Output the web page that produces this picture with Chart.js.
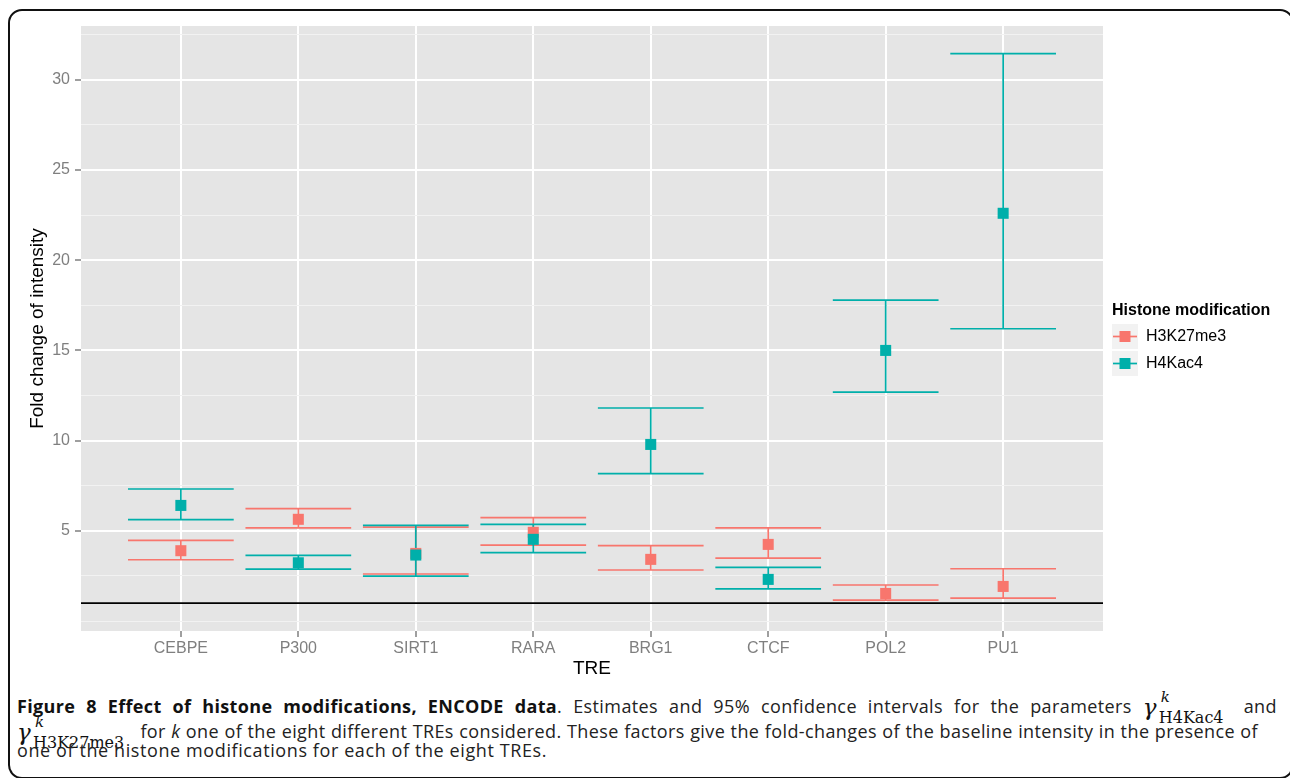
<!DOCTYPE html>
<html>
<head>
<meta charset="utf-8">
<script src="https://cdn.jsdelivr.net/npm/chart.js@4.4.1/dist/chart.umd.min.js"></script>
<style>
  html, body { margin: 0; padding: 0; background: #fff; }
  body { width: 1290px; height: 778px; position: relative; overflow: hidden; }
  #wrap { position: absolute; left: 0; top: 0; width: 1290px; height: 680px; }
  #frame {
    position: absolute; left: 8px; top: 9px; width: 1282px; height: 766px;
    border: 2px solid #111; border-radius: 14px; pointer-events: none;
  }
  .cap {
    position: absolute; left: 17px; font-family: 'Open Sans', sans-serif; font-size: 18px;
    letter-spacing: 0.4px; line-height: 22px; color: #222; white-space: nowrap;
    text-align: justify; text-align-last: justify;
  }
  .cap b { font-weight: 700; color: #111; letter-spacing: 0.35px; }
  .math { display: inline-block; position: relative; height: 0; vertical-align: baseline; letter-spacing: 0; }
  .math span { position: absolute; line-height: 1; font-family: 'DejaVu Serif', serif; color: #111; }
  .math .g { font-style: italic; font-size: 23px; left: 0; bottom: -6px; }
  .math .k { font-style: italic; font-size: 15px; left: 18px; bottom: 8px; }
  .math .s { font-size: 16px; left: 16px; bottom: -13px; }
</style>
</head>
<body>
<div id="wrap"><canvas id="chart"></canvas></div>
<div class="cap" style="top:695px; width:1260px;"><b>Figure 8 Effect of histone modifications, ENCODE data</b>. Estimates and 95% confidence intervals for the parameters <span class="math" style="width:90px"><span class="g">γ</span><span class="k">k</span><span class="s">H4Kac4</span></span> and</div>
<div class="cap" style="top:720px; width:1241px;"><span class="math" style="width:118px"><span class="g">γ</span><span class="k">k</span><span class="s">H3K27me3</span></span> for <i>k</i> one of the eight different TREs considered. These factors give the fold-changes of the baseline intensity in the presence of</div>
<div class="cap" style="top:739px; letter-spacing:0.6px; text-align:left; text-align-last:left;">one of the histone modifications for each of the eight TREs.</div>
<div id="frame"></div>
<script>
const categories = ['CEBPE', 'P300', 'SIRT1', 'RARA', 'BRG1', 'CTCF', 'POL2', 'PU1'];

// H3K27me3: estimate, lower and upper 95% limit
const h3k27me3 = [3.90, 5.64, 3.75, 4.92, 3.42, 4.25, 1.53, 1.92];
const h3k27me3Lo = [3.40, 5.16, 2.61, 4.21, 2.83, 3.49, 1.16, 1.27];
const h3k27me3Hi = [4.47, 6.23, 5.21, 5.73, 4.18, 5.17, 2.00, 2.90];

// H4Kac4
const h4kac4 = [6.41, 3.23, 3.66, 4.53, 9.79, 2.31, 15.00, 22.60];
const h4kac4Lo = [5.62, 2.88, 2.49, 3.79, 8.17, 1.79, 12.69, 16.20];
const h4kac4Hi = [7.32, 3.64, 5.30, 5.36, 11.81, 2.98, 17.79, 31.45];

const baseline = 1;
const yMajor = [5, 10, 15, 20, 25, 30];
const yMinor = [0, 2.5, 7.5, 12.5, 17.5, 22.5, 27.5, 32.5];

const red = '#F8766D';
const teal = '#00AFAA';
const xMin = 0.15, xMax = 8.85;
const capHalf = 0.45;

function points(vals) {
    return vals.map((v, i) => ({ x: i + 1, y: v }));
}

// error bars as line segments, gaps made with null
function errorBars(lo, hi) {
    const d = [];
    lo.forEach((l, i) => {
        const x = i + 1, h = hi[i];
        d.push({ x: x - capHalf, y: h }, { x: x + capHalf, y: h }, { x: x, y: null });
        d.push({ x: x, y: h }, { x: x, y: l }, { x: x, y: null });
        d.push({ x: x - capHalf, y: l }, { x: x + capHalf, y: l }, { x: x, y: null });
    });
    return d;
}

const lineSet = (data, color, order) => ({
    data: data, borderColor: color, borderWidth: 1.7, pointRadius: 0,
    showLine: true, spanGaps: false, fill: false, order: order
});
const pointSet = (data, color, order) => ({
    data: data, showLine: false, pointStyle: 'rect', pointRadius: 7.8,
    pointBackgroundColor: color, pointBorderWidth: 0, borderColor: color, order: order
});

// grey panel behind the grid
const panelBg = {
    id: 'panelBg',
    beforeDraw(chart) {
        const { ctx, chartArea: a } = chart;
        ctx.save();
        ctx.fillStyle = '#E5E5E5';
        ctx.fillRect(a.left, a.top, a.right - a.left, a.bottom - a.top);
        ctx.restore();
    }
};

// ggplot style legend
const ggLegend = {
    id: 'ggLegend',
    afterDraw(chart) {
        const ctx = chart.ctx;
        const x = 1112;
        ctx.save();
        ctx.fillStyle = '#000';
        ctx.font = "bold 16px 'Liberation Sans', Arial, sans-serif";
        ctx.textBaseline = 'alphabetic';
        ctx.fillText('Histone modification', x, 315);
        const items = [['H3K27me3', red], ['H4Kac4', teal]];
        items.forEach(([label, color], i) => {
            const top = 324 + i * 27;
            ctx.fillStyle = '#F2F2F2';
            ctx.fillRect(x, top, 26, 25);
            const cy = top + 12.5;
            ctx.strokeStyle = color;
            ctx.lineWidth = 1.7;
            ctx.beginPath();
            ctx.moveTo(x + 1, cy);
            ctx.lineTo(x + 25, cy);
            ctx.stroke();
            ctx.fillStyle = color;
            ctx.fillRect(x + 13 - 5.5, cy - 5.5, 11, 11);
            ctx.fillStyle = '#000';
            ctx.font = "16px 'Liberation Sans', Arial, sans-serif";
            ctx.textBaseline = 'middle';
            ctx.fillText(label, x + 34, cy);
        });
        ctx.restore();
    }
};

Chart.defaults.font.family = "'Liberation Sans', Arial, sans-serif";

new Chart(document.getElementById('chart').getContext('2d'), {
    type: 'line',
    data: {
        datasets: [
            pointSet(points(h4kac4), teal, 0),
            pointSet(points(h3k27me3), red, 1),
            lineSet(errorBars(h4kac4Lo, h4kac4Hi), teal, 2),
            lineSet(errorBars(h3k27me3Lo, h3k27me3Hi), red, 3),
            lineSet([{ x: xMin, y: baseline }, { x: xMax, y: baseline }], '#000', 4)
        ]
    },
    options: {
        responsive: true,
        maintainAspectRatio: false,
        animation: false,
        events: [],
        layout: { padding: { top: 26, right: 187, left: 0, bottom: 0 } },
        plugins: { legend: { display: false }, tooltip: { enabled: false } },
        scales: {
            x: {
                type: 'linear',
                min: xMin,
                max: xMax,
                afterBuildTicks: s => { s.ticks = categories.map((c, i) => ({ value: i + 1 })); },
                afterFit: s => { s.height = 49; },
                border: { display: false },
                grid: { color: '#fff', lineWidth: 2, tickColor: '#7f7f7f', tickLength: 6, tickWidth: 1.5 },
                ticks: {
                    callback: v => categories[v - 1],
                    color: '#7f7f7f', font: { size: 16 }, padding: 2,
                    autoSkip: false, maxRotation: 0
                },
                title: { display: true, text: 'TRE', color: '#000', font: { size: 19 }, padding: 0 }
            },
            y: {
                type: 'linear',
                min: -0.55,
                max: 32.98,
                afterBuildTicks: s => {
                    s.ticks = yMinor.concat(yMajor).sort((a, b) => a - b).map(v => ({ value: v }));
                },
                afterFit: s => { s.width = 81; },
                border: { display: false },
                grid: {
                    color: c => yMajor.includes(c.tick.value) ? '#fff' : '#F2F2F2',
                    lineWidth: c => yMajor.includes(c.tick.value) ? 2 : 1,
                    tickColor: c => yMajor.includes(c.tick.value) ? '#7f7f7f' : 'rgba(0,0,0,0)',
                    tickWidth: 1.5,
                    tickLength: 6
                },
                ticks: {
                    callback: v => yMajor.includes(v) ? String(v) : '',
                    color: '#7f7f7f', font: { size: 16 }, padding: 5, autoSkip: false
                },
                title: {
                    display: true, text: 'Fold change of intensity', color: '#000',
                    font: { size: 19 }, padding: { top: 26, bottom: 0 }
                }
            }
        }
    },
    plugins: [panelBg, ggLegend]
});
</script>
</body>
</html>
